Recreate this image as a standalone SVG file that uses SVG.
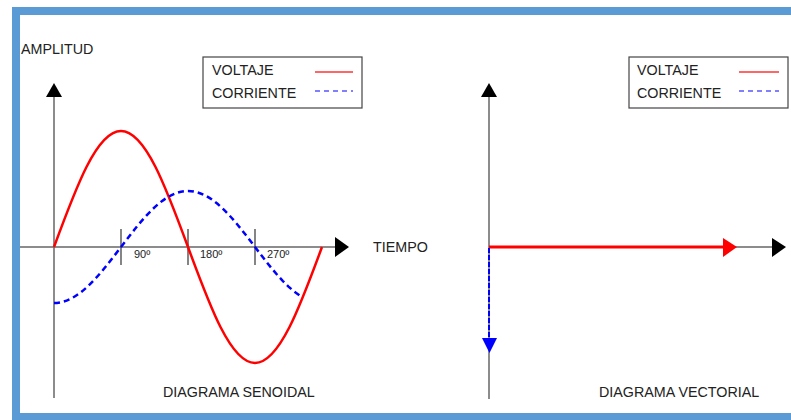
<svg xmlns="http://www.w3.org/2000/svg" width="791" height="420" viewBox="0 0 791 420">
<defs>
<style>
text{font-family:"Liberation Sans",Arial,sans-serif;fill:#222;font-size:14.3px}
.deg{font-size:11px}
.axis{stroke:#666;stroke-width:1.5;fill:none}
.tick{stroke:#333;stroke-width:1.2}
.volt{stroke:#f00;stroke-width:2.5;fill:none}
.curr{stroke:#00f;stroke-width:2.5;fill:none;stroke-dasharray:6 4}
.leg{fill:#fff;stroke:#444;stroke-width:1.2}
.lv{stroke:#f66;stroke-width:1.8}
.lc{stroke:#55f;stroke-width:1.5;stroke-dasharray:5 4}
</style>
</defs>
<rect x="0" y="0" width="791" height="420" fill="#fff"/>
<g id="frame" fill="#5b9bd5">
<rect x="12" y="7" width="779" height="8"/>
<rect x="12" y="7" width="8" height="413"/>
<rect x="12" y="413" width="779" height="7"/>
</g>
<g id="sinusoidal-axes">
<line class="axis" x1="54" y1="96" x2="54" y2="398"/>
<polygon points="46,97 62,97 54,83" fill="#000"/>
<line class="axis" x1="20" y1="247" x2="336" y2="247"/>
<polygon points="335,237 335,257 349,247" fill="#000"/>
<line class="tick" x1="121" y1="229" x2="121" y2="265"/>
<line class="tick" x1="188" y1="229" x2="188" y2="265"/>
<line class="tick" x1="255" y1="229" x2="255" y2="265"/>
<text class="deg" x="134" y="258">90º</text>
<text class="deg" x="200" y="258">180º</text>
<text class="deg" x="267" y="258">270º</text>
<text x="21" y="54">AMPLITUD</text>
<text x="373" y="252">TIEMPO</text>
<text x="163" y="397">DIAGRAMA SENOIDAL</text>
</g>
<g id="waves">
<path class="volt" d="M54,247 C75.85,187.57 96.75,131 121,131 C145.25,131 166.15,187.57 188,247 C209.85,306.43 230.75,363 255,363 C279.25,363 300.15,306.43 322,247"/>
<path class="curr" d="M54,303 C78.25,303 99.15,275.69 121,247 C142.85,218.31 163.75,191 188,191 C212.25,191 233.15,218.31 255,247 L260.58,254.31 L266.17,261.49 L271.75,268.43 L277.33,275 L282.92,281.09 L288.5,286.6 L294.08,291.43 L299.67,295.5 L302,296.9"/>
</g>
<g id="legend-left">
<rect class="leg" x="203" y="57" width="159" height="51"/>
<text x="212" y="75">VOLTAJE</text>
<text x="212" y="98">CORRIENTE</text>
<line class="lv" x1="315" y1="72" x2="353" y2="72"/>
<line class="lc" x1="315" y1="91" x2="353" y2="91"/>
</g>
<g id="vector-axes">
<line class="axis" x1="489" y1="96" x2="489" y2="399"/>
<polygon points="481,97 497,97 489,83" fill="#000"/>
<line class="axis" x1="489" y1="247" x2="773" y2="247"/>
<polygon points="772,238 772,257 786,247" fill="#000"/>
<text x="599" y="397">DIAGRAMA VECTORIAL</text>
</g>
<g id="vectors">
<line stroke="#f00" stroke-width="3" x1="489" y1="247" x2="724" y2="247"/>
<polygon points="723,238 723,257 737,247" fill="#f00"/>
<line stroke="#00f" stroke-width="2" stroke-dasharray="5 2" x1="489" y1="248" x2="489" y2="339"/>
<polygon points="482,338 497,338 489.5,353" fill="#00f"/>
</g>
<g id="legend-right">
<rect class="leg" x="629" y="57" width="159" height="51"/>
<text x="637" y="75">VOLTAJE</text>
<text x="637" y="98">CORRIENTE</text>
<line class="lv" x1="739" y1="72" x2="779" y2="72"/>
<line class="lc" x1="739" y1="91" x2="779" y2="91"/>
</g>
</svg>
